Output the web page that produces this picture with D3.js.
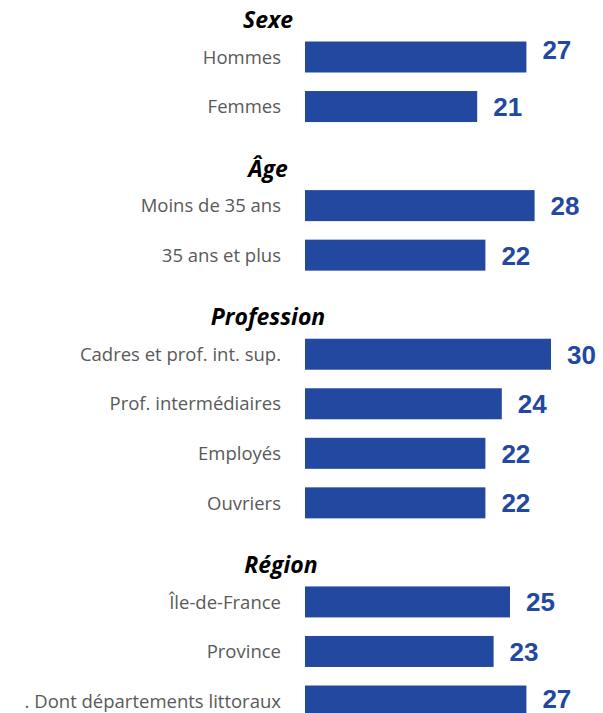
<!DOCTYPE html>
<html>
<head>
<meta charset="utf-8">
<script src="https://cdn.jsdelivr.net/npm/d3@7"></script>
<style>
  html, body { margin: 0; padding: 0; background: #ffffff; }
  svg { display: block; }
</style>
</head>
<body>
<svg id="chart" width="603" height="713"></svg>
<script>
// ---- Data ----
const groupTitles = ["Sexe", "Âge", "Profession", "Région"];
const sexeCategories = ["Hommes", "Femmes"];
const sexeValues = [27, 21];
const ageCategories = ["Moins de 35 ans", "35 ans et plus"];
const ageValues = [28, 22];
const professionCategories = ["Cadres et prof. int. sup.", "Prof. intermédiaires", "Employés", "Ouvriers"];
const professionValues = [30, 24, 22, 22];
const regionCategories = ["Île-de-France", "Province", ". Dont départements littoraux"];
const regionValues = [25, 23, 27];

const groupCategories = [sexeCategories, ageCategories, professionCategories, regionCategories];
const groupValues = [sexeValues, ageValues, professionValues, regionValues];

// ---- Build rows (a title slot precedes every group) ----
const rows = [];
const titles = [];
let slot = 0;
groupTitles.forEach((t, gi) => {
  titles.push({ title: t, firstSlot: slot + 1, group: gi });
  slot += 1;
  groupCategories[gi].forEach((c, i) => {
    rows.push({ label: c, value: groupValues[gi][i], slot: slot });
    slot += 1;
  });
});

// ---- Scales ----
const svg = d3.select("#chart");
const barLeft = 305;
const x = d3.scaleLinear().domain([0, 30]).range([barLeft, 551]);
const y = d3.scaleLinear().domain([1, 14]).range([57, 701]);
const barH = 31;
const barColor = "#22499f";

// ---- Bars ----
svg.append("g").selectAll("rect")
  .data(rows)
  .join("rect")
  .attr("x", x(0))
  .attr("y", d => y(d.slot) - barH / 2)
  .attr("width", d => x(d.value) - x(0))
  .attr("height", barH)
  .attr("fill", barColor);

// ---- Category labels ----
svg.append("g").selectAll("text")
  .data(rows)
  .join("text")
  .attr("x", 281)
  .attr("y", d => y(d.slot))
  .attr("dy", "0.36em")
  .attr("text-anchor", "end")
  .attr("font-family", "'Open Sans', Lato, sans-serif")
  .attr("font-size", 18.5)
  .attr("fill", "#595959")
  .text(d => d.label);

// ---- Value labels ----
svg.append("g").selectAll("text")
  .data(rows)
  .join("text")
  .attr("x", d => x(d.value) + 16)
  .attr("y", (d, i) => y(d.slot) - (i === 0 ? 7 : 0) - (i === rows.length - 1 ? 2 : 0))
  .attr("dy", "0.36em")
  .attr("font-family", "'Liberation Sans', Arial, sans-serif")
  .attr("font-weight", "bold")
  .attr("font-size", 26)
  .attr("fill", barColor)
  .text(d => d.value);

// ---- Group titles ----
svg.append("g").selectAll("text")
  .data(titles)
  .join("text")
  .attr("x", d => d.group === 3 ? 281 : 268)
  .attr("y", d => y(d.firstSlot) - 29)
  .attr("text-anchor", "middle")
  .attr("font-family", "'Open Sans', Lato, sans-serif")
  .attr("font-weight", "bold")
  .attr("font-style", "italic")
  .attr("font-size", 23)
  .attr("fill", "#000000")
  .text(d => d.title);
</script>
</body>
</html>
